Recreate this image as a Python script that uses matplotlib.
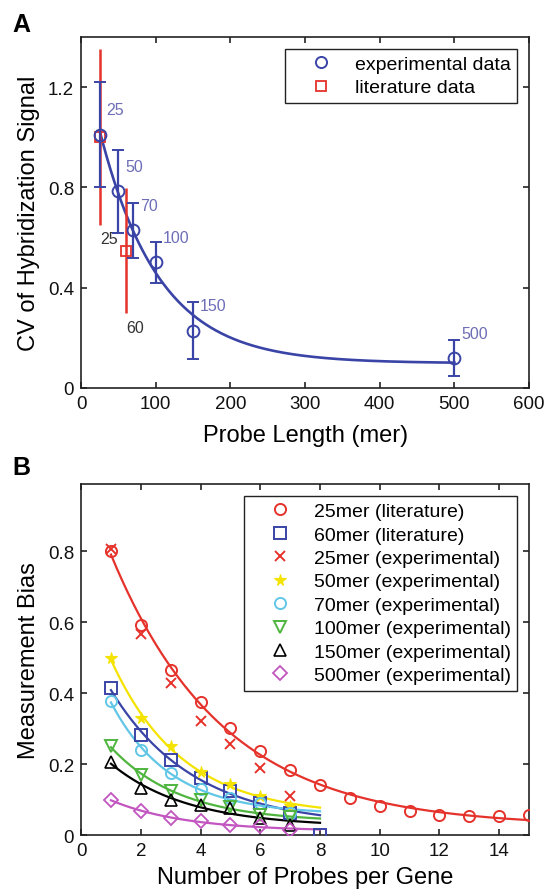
import numpy as np
import matplotlib
matplotlib.use('Agg')
from matplotlib import pyplot as plt
from matplotlib.lines import Line2D

plt.rcParams['font.family'] = ['Liberation Sans', 'DejaVu Sans']

# ---- panel A data ----
exp_len = [25, 50, 70, 100, 150, 500]
exp_cv = [1.01, 0.785, 0.629, 0.501, 0.229, 0.119]
exp_err = [0.21, 0.165, 0.11, 0.083, 0.115, 0.072]
exp_labels = ['25', '50', '70', '100', '150', '500']

lit_len = [25, 60]
lit_cv = [1.0, 0.548]
lit_err = [0.35, 0.25]
lit_labels = ['25', '60']

# ---- panel B data ----
n15 = list(range(1, 16))
n7 = list(range(1, 8))
n8 = list(range(1, 9))
lit25 = [0.802, 0.592, 0.466, 0.375, 0.301, 0.237, 0.184, 0.142,
         0.104, 0.081, 0.067, 0.057, 0.054, 0.054, 0.057]
lit60 = [0.414, 0.281, 0.212, 0.161, 0.123, 0.090, 0.062, 0.0]
exp25 = [0.808, 0.566, 0.428, 0.322, 0.257, 0.189, 0.109]
exp50 = [0.499, 0.330, 0.250, 0.178, 0.144, 0.109, 0.082]
exp70 = [0.377, 0.240, 0.175, 0.129, 0.105, 0.090, 0.062]
exp100 = [0.250, 0.168, 0.125, 0.098, 0.080, 0.057, 0.050]
exp150 = [0.207, 0.132, 0.100, 0.084, 0.076, 0.048, 0.029]
exp500 = [0.099, 0.067, 0.048, 0.039, 0.028, 0.025, 0.015]

BLUE = '#3a44a6'
LBLUE = '#6d6db8'
RED = '#e5322b'
YEL = '#f4e300'
CYAN = '#62c6e6'
GREEN = '#4fb53f'
MAG = '#c255c0'


def expfit(x, y, ks):
    # least squares fit of y = a*exp(-k x) + c, grid over k
    x = np.asarray(x, float)
    y = np.asarray(y, float)
    best = None
    for k in ks:
        M = np.column_stack([np.exp(-k * x), np.ones_like(x)])
        coef, res, _, _ = np.linalg.lstsq(M, y, rcond=None)
        r = np.sum((M @ coef - y) ** 2)
        if best is None or r < best[0]:
            best = (r, k, coef)
    _, k, (a, c) = best
    return lambda t: a * np.exp(-k * np.asarray(t, float)) + c


leg_kw = dict(loc='upper right', fontsize=14, frameon=True, fancybox=False,
              edgecolor='#222222', framealpha=1, handlelength=3.0,
              handletextpad=0.25, borderpad=0.35, labelspacing=0.3,
              borderaxespad=0.6, numpoints=1)

fig = plt.figure(figsize=(5.48, 8.95), dpi=100)

# ================= A =================
ax = fig.add_axes([0.148, 0.5654, 0.8175, 0.3922])
f = expfit(exp_len, exp_cv, np.linspace(0.002, 0.1, 2000))
xx = np.linspace(exp_len[0], exp_len[-1], 300)
ax.plot(xx, f(xx), color=BLUE, lw=1.9, zorder=2)
ax.errorbar(lit_len, lit_cv, yerr=lit_err, fmt='s', color=RED, mfc='none',
            ms=7, mew=1.3, elinewidth=1.8, capsize=0, zorder=3)
ax.errorbar(exp_len, exp_cv, yerr=exp_err, fmt='o', color=BLUE, mfc='none',
            ms=8.5, mew=1.4, elinewidth=1.6, capsize=4, capthick=1.6, zorder=4)
for x, y, s in zip(exp_len, exp_cv, exp_labels):
    ax.annotate(s, (x, y), xytext=(5, 18), textcoords='offset points',
                ha='left', va='center', fontsize=11.5, color=LBLUE)
for x, y, e, s in zip(lit_len, lit_cv, lit_err, lit_labels):
    ax.annotate(s, (x, y - e), xytext=(6.5, -10), textcoords='offset points',
                ha='center', va='center', fontsize=11.5, color='#333333')

ax.set_xlim(0, 600)
ax.set_ylim(0, 1.4)
ax.set_xticks(range(0, 601, 100))
ax.set_yticks([0, 0.4, 0.8, 1.2])
ax.set_yticklabels(['0', '0.4', '0.8', '1.2'])
ax.set_xlabel('Probe Length (mer)', fontsize=17, labelpad=9)
ax.set_ylabel('CV of Hybridization Signal', fontsize=17, labelpad=6)
hA = [Line2D([], [], ls='none', marker='o', ms=8, mfc='none', mec=BLUE, mew=1.4),
      Line2D([], [], ls='none', marker='s', ms=7, mfc='none', mec=RED, mew=1.3)]
ax.legend(hA, ['experimental data', 'literature data'], **leg_kw)
ax.get_legend().get_frame().set_linewidth(1.0)

# ================= B =================
bx = fig.add_axes([0.148, 0.0659, 0.8175, 0.3922])
ks = np.linspace(0.05, 2, 2000)
xx15 = np.linspace(1, 15, 300)
xx8 = np.linspace(1, 8, 200)

series = [
    (n7, exp50, YEL, dict(marker='*', ms=8.5, mfc=YEL, mec=YEL, mew=0.8), '50mer (experimental)'),
    (n7, exp70, CYAN, dict(marker='o', ms=8, mfc='none', mec=CYAN, mew=1.4), '70mer (experimental)'),
    (n7, exp100, GREEN, dict(marker='v', ms=9, mfc='none', mec=GREEN, mew=1.4), '100mer (experimental)'),
    (n7, exp150, 'black', dict(marker='^', ms=9, mfc='none', mec='black', mew=1.2), '150mer (experimental)'),
    (n7, exp500, MAG, dict(marker='D', ms=7, mfc='none', mec=MAG, mew=1.3), '500mer (experimental)'),
]
handles = {}
# 60mer literature (fit without the zero point)
fb = expfit(n8[:7], lit60[:7], ks)
bx.plot(xx8, fb(xx8), color=BLUE, lw=1.6, zorder=2)
handles['60mer (literature)'], = bx.plot(n8, lit60, 's', ms=8, mfc='none',
                                         mec=BLUE, mew=1.4, zorder=3)
for xs, ys, c, mk, lab in series:
    ff = expfit(xs, ys, ks)
    bx.plot(xx8, ff(xx8), color=c, lw=1.6, zorder=2)
    handles[lab], = bx.plot(xs, ys, ls='none', zorder=3, **mk)
handles['25mer (experimental)'], = bx.plot(n7, exp25, 'x', color=RED, ms=7,
                                           mew=1.4, zorder=3)
fr = expfit(n15, lit25, ks)
bx.plot(xx15, fr(xx15), color=RED, lw=1.6, zorder=4)
handles['25mer (literature)'], = bx.plot(n15, lit25, 'o', ms=8, mfc='none',
                                         mec=RED, mew=1.4, zorder=5)

order = ['25mer (literature)', '60mer (literature)', '25mer (experimental)',
         '50mer (experimental)', '70mer (experimental)', '100mer (experimental)',
         '150mer (experimental)', '500mer (experimental)']
bx.legend([handles[k] for k in order], order, **leg_kw)
bx.get_legend().get_frame().set_linewidth(1.0)

bx.set_xlim(0, 15)
bx.set_ylim(0, 0.99)
bx.set_xticks(range(0, 15, 2))
bx.set_yticks([0, 0.2, 0.4, 0.6, 0.8])
bx.set_yticklabels(['0', '0.2', '0.4', '0.6', '0.8'])
bx.set_xlabel('Number of Probes per Gene', fontsize=17, labelpad=5)
bx.set_ylabel('Measurement Bias', fontsize=17, labelpad=6)

for a in (ax, bx):
    a.tick_params(direction='in', top=True, right=True, length=4, width=1.1,
                  labelsize=13.5, pad=5, colors='#111111')
    for sp in a.spines.values():
        sp.set_linewidth(1.2)
        sp.set_color('#222222')

fig.text(0.022, 0.972, 'A', fontsize=18, fontweight='bold', va='center')
fig.text(0.022, 0.477, 'B', fontsize=18, fontweight='bold', va='center')

fig.savefig('out.png', dpi=100)
